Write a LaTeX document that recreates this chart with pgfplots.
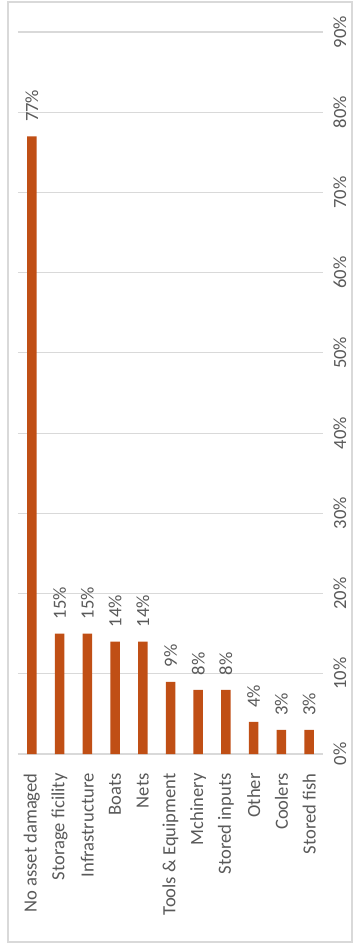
\documentclass[border=0pt]{standalone}
\usepackage{fontspec}
\setmainfont{Carlito}
\usepackage{pgfplots}
\pgfplotsset{compat=1.18}
\definecolor{barc}{RGB}{192,79,21}
\definecolor{txtc}{RGB}{89,89,89}
\definecolor{gridc}{RGB}{217,217,217}
\begin{document}
\begin{tikzpicture}
\useasboundingbox (-9pt,-95.5pt) rectangle (169pt,377pt);
\draw[draw=gridc, line width=0.6pt] (-5pt,-94pt) rectangle (167pt,376pt);
\begin{axis}[
  at={(0,0)}, anchor=south west,
  scale only axis,
  width=152.5pt, height=361pt,
  ybar, bar width=4.75pt,
  xmin=-0.5, xmax=10.5,
  ymin=0, ymax=90,
  ytick={0,10,...,90},
  xtick=data,
  xticklabels={No asset damaged,Storage ficility,Infrastructure,Boats,Nets,Tools \& Equipment,Mchinery,Stored inputs,Other,Coolers,Stored fish},
  axis line style={draw=none},
  major tick length=0pt,
  xmajorgrids=false,
  ymajorgrids=true,
  major grid style={draw=gridc, line width=0.6pt},
  yticklabel pos=right,
  font=\fontsize{9.3}{11}\selectfont,
  /pgf/number format/assume math mode=true,
  yticklabel={\pgfmathprintnumber{\tick}\%},
  yticklabel style={rotate=90, anchor=north, inner xsep=0pt, inner ysep=5pt, text=txtc},
  xticklabel style={rotate=90, anchor=east, inner ysep=0pt, inner xsep=9.5pt, text=txtc},
  nodes near coords={\pgfmathprintnumber{\pgfplotspointmeta}\%},
  every node near coord/.append style={rotate=90, anchor=west, inner ysep=0pt, inner xsep=7pt, text=txtc, font=\fontsize{9.3}{11}\selectfont},
  clip=false,
]
\addplot[fill=barc, draw=none] coordinates {(0,77) (1,15) (2,15) (3,14) (4,14) (5,9) (6,8) (7,8) (8,4) (9,3) (10,3)};
\end{axis}
\end{tikzpicture}
\end{document}
